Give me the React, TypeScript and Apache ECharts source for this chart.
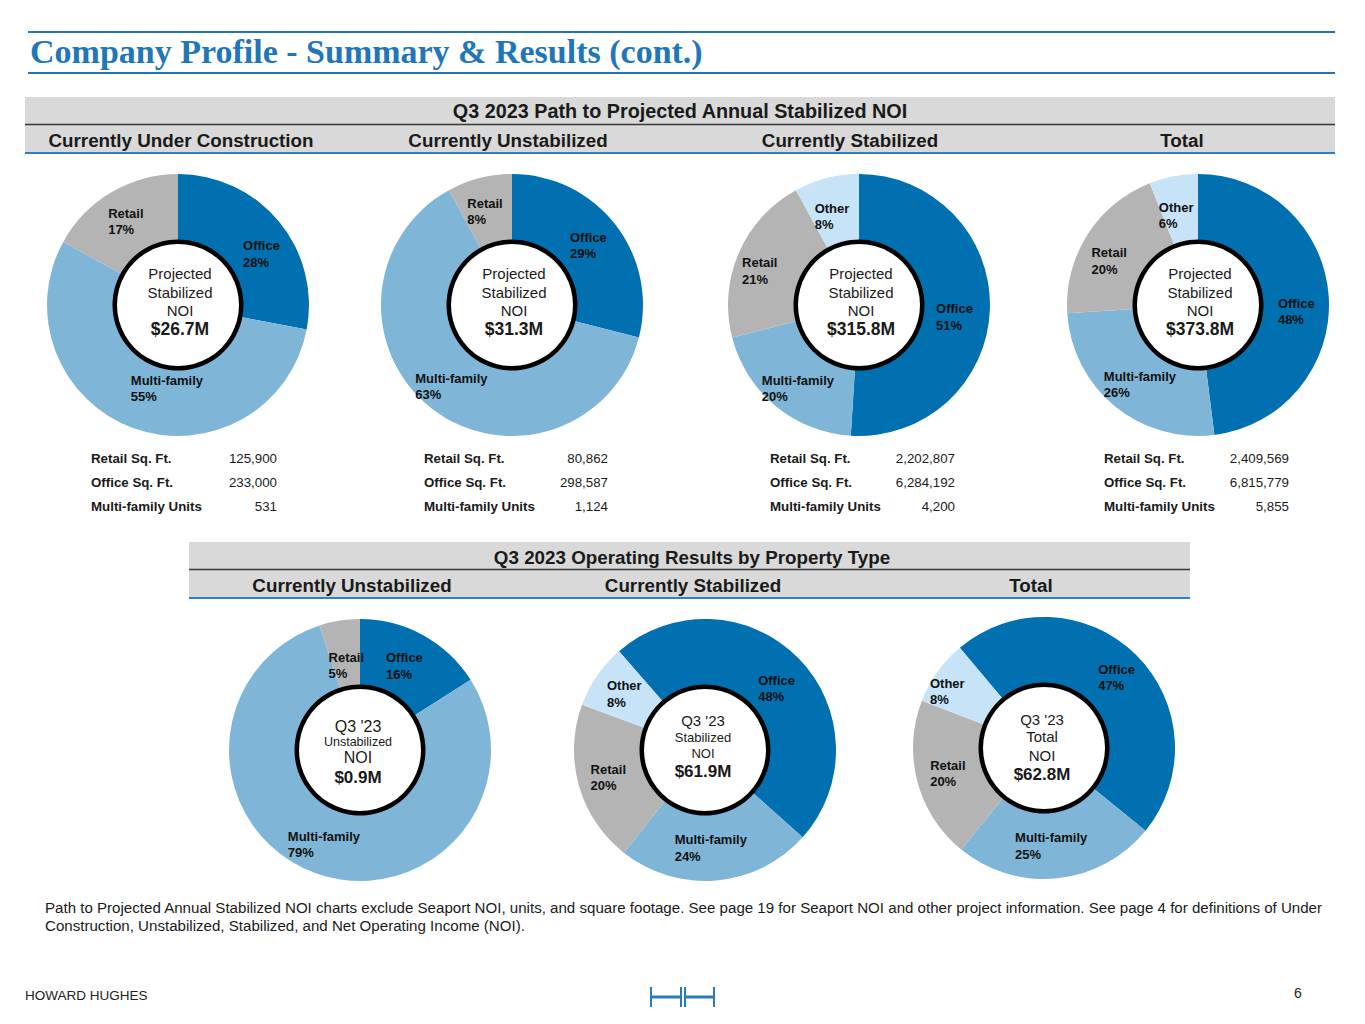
import React, { useEffect, useRef } from "react";
import * as echarts from "echarts";

// ---------- data ----------
const PAGE_TITLE = "Company Profile - Summary & Results (cont.)";
const SECTION_TOP = "Q3 2023 Path to Projected Annual Stabilized NOI";
const SECTION_BOTTOM = "Q3 2023 Operating Results by Property Type";
const topColumns = ["Currently Under Construction", "Currently Unstabilized", "Currently Stabilized", "Total"];
const bottomColumns = ["Currently Unstabilized", "Currently Stabilized", "Total"];

const categoriesThree = ["Office", "Multi-family", "Retail"];
const categoriesFour = ["Office", "Multi-family", "Retail", "Other"];

const underConstructionShare = [28, 55, 17];
const unstabilizedShare = [29, 63, 8];
const stabilizedShare = [51, 20, 21, 8];
const totalShare = [48, 26, 20, 6];

const q3UnstabilizedShare = [16, 79, 5];
const q3StabilizedShare = [48, 24, 20, 8];
const q3TotalShare = [47, 25, 20, 8];

const projectedNoi = ["$26.7M", "$31.3M", "$315.8M", "$373.8M"];
const q3Noi = ["$0.9M", "$61.9M", "$62.8M"];
const q3NoiKinds = ["Unstabilized", "Stabilized", "Total"];

const tableRowLabels = ["Retail Sq. Ft.", "Office Sq. Ft.", "Multi-family Units"];
const retailSqFt = [125900, 80862, 2202807, 2409569];
const officeSqFt = [233000, 298587, 6284192, 6815779];
const multifamilyUnits = [531, 1124, 4200, 5855];

const footnoteLines = [
  "Path to Projected Annual Stabilized NOI charts exclude Seaport NOI, units, and square footage. See page 19 for Seaport NOI and other project information. See page 4 for definitions of Under",
  "Construction, Unstabilized, Stabilized, and Net Operating Income (NOI).",
];
const footerLeft = "HOWARD HUGHES";
const pageNumber = "6";

// ---------- style / layout ----------
const FONT = "'Liberation Sans', Arial, sans-serif";
const SERIF = "'Liberation Serif', 'Times New Roman', serif";
const COLORS: Record<string, string> = {
  Office: "#0070b0",
  "Multi-family": "#7fb6d8",
  Retail: "#b4b4b4",
  Other: "#c6e3f8",
};
const TITLE_BLUE = "#1f76b8";
const LINE_BLUE = "#2f7fc1";
const BAND_GRAY = "#d9d9d9";
const TEXT = "#1a1a1a";

const OUTER_R = 131;
const INNER_R = 64;

const topCenters = [
  [178, 305],
  [512, 305],
  [859, 305],
  [1198, 305],
];
const topHeadX = [181, 508, 850, 1182];
const topStart = [90, 90, 90, 90];
// label nudges (dx, dy) per slice, in slice order
const topLabelNudge = [
  [[6, 13], [23, -11], [-1, 3]],
  [[-3, 2], [1, 2], [-2, 4]],
  [[-5, 9], [3, 6], [-7, 6], [-2, 9]],
  [[-2, 13], [6, 2], [-4, 10], [-3, 9]],
];

const bottomCenters = [
  [360, 750],
  [705, 750],
  [1044, 748],
];
const bottomHeadX = [352, 693, 1031];
const bottomStart = [90, 131, 130];
const bottomLabelNudge = [
  [[-4, 4], [-2, 0], [2, 15]],
  [[0, 9], [-3, -2], [0, 0], [2, 1]],
  [[2, 1], [-3, -2], [1, 0], [-15, 2]],
];

const tableLabelX = [91, 424, 770, 1104];
const tableValueX = [277, 608, 955, 1289];
const tableRowY = [458, 482, 506];

function donut(cats: string[], vals: number[], center: number[], startAngle: number, nudge: number[][]) {
  return {
    type: "pie",
    center,
    radius: [INNER_R, OUTER_R],
    startAngle,
    clockwise: true,
    silent: true,
    z: 2,
    label: {
      show: true,
      position: "inside",
      color: "#111",
      fontFamily: FONT,
      fontSize: 13,
      fontWeight: "bold",
      formatter: (p: any) => `{n|${p.name}}\n{n|${p.value}%}`,
      rich: {
        n: {
          fontFamily: FONT,
          fontSize: 13,
          fontWeight: "bold",
          color: "#111",
          lineHeight: 16.5,
          align: "left",
        },
      },
    },
    labelLayout: (p: any) => {
      const d = nudge[p.dataIndex] || [0, 0];
      return { dx: d[0], dy: d[1] };
    },
    labelLine: { show: false },
    itemStyle: { borderWidth: 0 },
    emphasis: { disabled: true },
    data: cats.map((c, i) => ({ name: c, value: vals[i], itemStyle: { color: COLORS[c] } })),
  };
}

function ring(center: number[]) {
  return {
    type: "pie",
    center,
    radius: [61, 65.5],
    silent: true,
    z: 3,
    label: { show: false },
    labelLine: { show: false },
    itemStyle: { color: "#000", borderWidth: 0 },
    emphasis: { disabled: true },
    data: [{ name: "ring", value: 1 }],
  };
}

function txt(
  text: string,
  x: number,
  y: number,
  o: { size: number; bold?: boolean; align?: string; fill?: string; family?: string }
) {
  const align = o.align ?? "center";
  return {
    type: "text",
    x,
    y,
    silent: true,
    z: 10,
    style: {
      text,
      fill: o.fill ?? TEXT,
      fontFamily: o.family ?? FONT,
      fontSize: o.size,
      fontWeight: o.bold ? "bold" : "normal",
      align,
      textAlign: align,
      verticalAlign: "middle",
      textVerticalAlign: "middle",
    },
  };
}

function hline(x1: number, x2: number, y: number, color: string, w: number) {
  return {
    type: "line",
    silent: true,
    z: 5,
    shape: { x1, y1: y, x2, y2: y },
    style: { stroke: color, lineWidth: w },
  };
}
function vline(x: number, y1: number, y2: number, color: string, w: number) {
  return {
    type: "line",
    silent: true,
    z: 5,
    shape: { x1: x, y1, x2: x, y2 },
    style: { stroke: color, lineWidth: w },
  };
}

function buildOption() {
  const topShares = [underConstructionShare, unstabilizedShare, stabilizedShare, totalShare];
  const topCats = [categoriesThree, categoriesThree, categoriesFour, categoriesFour];
  const bottomShares = [q3UnstabilizedShare, q3StabilizedShare, q3TotalShare];
  const bottomCats = [categoriesThree, categoriesFour, categoriesFour];

  const series: any[] = [];
  topShares.forEach((s, i) => {
    series.push(donut(topCats[i], s, topCenters[i], topStart[i], topLabelNudge[i]));
    series.push(ring(topCenters[i]));
  });
  bottomShares.forEach((s, i) => {
    series.push(donut(bottomCats[i], s, bottomCenters[i], bottomStart[i], bottomLabelNudge[i]));
    series.push(ring(bottomCenters[i]));
  });

  const g: any[] = [];
  // Title and rules
  g.push(hline(28, 1335, 32, TITLE_BLUE, 2));
  g.push(txt(PAGE_TITLE, 30, 51, { size: 34, bold: true, align: "left", fill: TITLE_BLUE, family: SERIF }));
  g.push(hline(28, 1335, 73, TITLE_BLUE, 2));

  // Top section header
  g.push({ type: "rect", silent: true, z: 1, shape: { x: 25, y: 97, width: 1310, height: 56 }, style: { fill: BAND_GRAY } });
  g.push(hline(25, 1335, 124.5, "#3a3a3a", 1.5));
  g.push(hline(25, 1335, 153, LINE_BLUE, 2));
  g.push(txt(SECTION_TOP, 680, 111, { size: 19.8, bold: true }));
  topColumns.forEach((c, i) => g.push(txt(c, topHeadX[i], 140, { size: 18.8, bold: true })));

  // Top center texts
  topCenters.forEach((c, i) => {
    const cx = c[0] + 2;
    const cy = c[1];
    g.push(txt("Projected", cx, cy - 32, { size: 15 }));
    g.push(txt("Stabilized", cx, cy - 13, { size: 15 }));
    g.push(txt("NOI", cx, cy + 5, { size: 15 }));
    g.push(txt(projectedNoi[i], cx, cy + 24, { size: 17.5, bold: true }));
  });

  // Tables
  const tableCols = [retailSqFt, officeSqFt, multifamilyUnits];
  for (let col = 0; col < 4; col++) {
    tableRowLabels.forEach((lab, r) => {
      g.push(txt(lab, tableLabelX[col], tableRowY[r], { size: 13.3, bold: true, align: "left" }));
      g.push(
        txt(tableCols[r][col].toLocaleString("en-US"), tableValueX[col], tableRowY[r], { size: 13.3, align: "right" })
      );
    });
  }

  // Bottom section header
  g.push({ type: "rect", silent: true, z: 1, shape: { x: 189, y: 542, width: 1001, height: 56 }, style: { fill: BAND_GRAY } });
  g.push(hline(189, 1190, 569.5, "#3a3a3a", 1.5));
  g.push(hline(189, 1190, 598, LINE_BLUE, 2));
  g.push(txt(SECTION_BOTTOM, 692, 557, { size: 18.8, bold: true }));
  bottomColumns.forEach((c, i) => g.push(txt(c, bottomHeadX[i], 585, { size: 18.8, bold: true })));

  // Bottom center texts
  const centerSpecs = [
    [
      [-24, 16],
      [-8, 12.5],
      [7, 16],
      [27, 17],
    ],
    [
      [-30, 15],
      [-13, 13],
      [3, 13],
      [21, 17],
    ],
    [
      [-29, 15],
      [-12, 15],
      [7, 15],
      [26, 17],
    ],
  ];
  bottomCenters.forEach((c, i) => {
    const cx = c[0] - 2;
    const cy = c[1];
    const s = centerSpecs[i];
    g.push(txt("Q3 '23", cx, cy + s[0][0], { size: s[0][1] }));
    g.push(txt(q3NoiKinds[i], cx, cy + s[1][0], { size: s[1][1] }));
    g.push(txt("NOI", cx, cy + s[2][0], { size: s[2][1] }));
    g.push(txt(q3Noi[i], cx, cy + s[3][0], { size: s[3][1], bold: true }));
  });

  // Footnote
  g.push(txt(footnoteLines[0], 45, 907, { size: 15.1, align: "left" }));
  g.push(txt(footnoteLines[1], 45, 925, { size: 15.1, align: "left" }));

  // Footer
  g.push(txt(footerLeft, 25, 995, { size: 13.5, align: "left", fill: "#222" }));
  g.push(txt(pageNumber, 1294, 993, { size: 14, align: "left", fill: "#222" }));
  const LOGO = "#2a7bbb";
  g.push(vline(651, 987, 1007, LOGO, 2));
  g.push(vline(681, 987, 1007, LOGO, 2));
  g.push(hline(651, 681, 997, LOGO, 3));
  g.push(vline(685, 987, 1007, LOGO, 2));
  g.push(vline(714, 987, 1007, LOGO, 2));
  g.push(hline(685, 714, 997, LOGO, 3));

  return {
    animation: false,
    backgroundColor: "#ffffff",
    series,
    graphic: { elements: g },
  };
}

export default function App() {
  const ref = useRef<HTMLDivElement>(null);
  useEffect(() => {
    if (!ref.current) return;
    const chart = echarts.init(ref.current, null, { renderer: "svg" });
    chart.setOption(buildOption() as any);
    return () => chart.dispose();
  }, []);
  return (
    <div
      ref={ref}
      style={{ position: "absolute", left: 0, top: 0, width: 1365, height: 1024, background: "#fff" }}
    />
  );
}
